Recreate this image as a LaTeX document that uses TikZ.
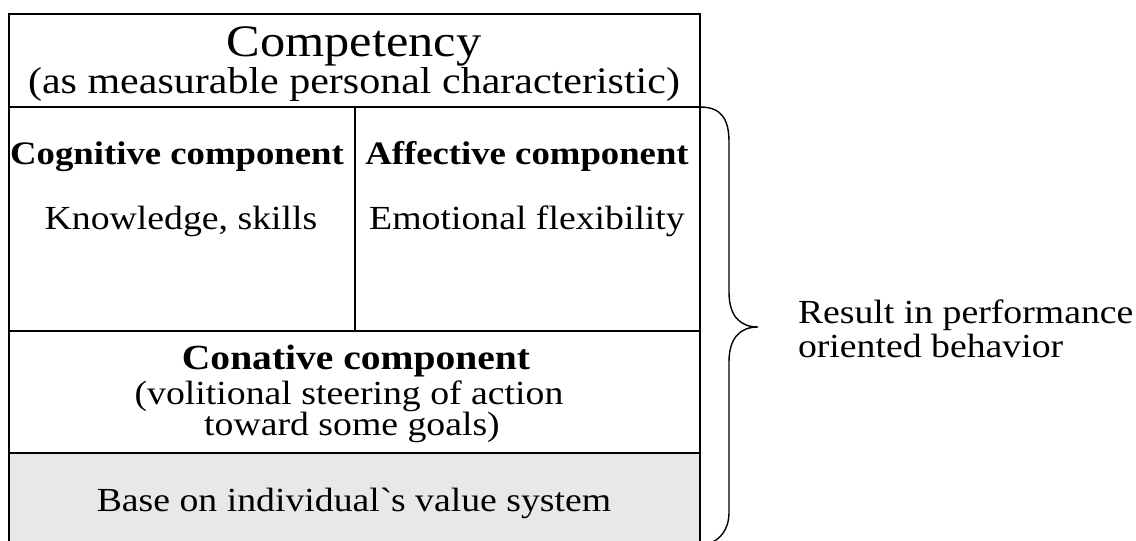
\documentclass[tikz,border=0pt]{standalone}
\usepackage{fontspec}
\setmainfont{Liberation Serif}[FakeStretch=1.12]
\begin{document}
\begin{tikzpicture}[x=1pt,y=-1pt,
  cell/.style={draw=black,line width=1.4pt,inner sep=0pt,outer sep=0pt},
  basecell/.style={cell,fill=black!9},
  txt/.style={anchor=base,inner sep=0pt,outer sep=0pt},
  huge/.style={font=\fontsize{45}{50}\selectfont},
  big/.style={font=\fontsize{37.5}{42}\selectfont},
  body/.style={font=\fontsize{33.7}{38}\selectfont},
  bodybf/.style={font=\fontsize{32.8}{38}\selectfont\bfseries},
  brace/.style={draw=black,line width=1.4pt}]
\useasboundingbox (0,0) rectangle (1136,541);

% cells of the competency block
\node[cell,minimum width=691pt,minimum height=93pt] (title) at (354.5,60.5) {};
\node[cell,minimum width=346pt,minimum height=224pt] (cog) at (182,219) {};
\node[cell,minimum width=345pt,minimum height=224pt] (aff) at (527.5,219) {};
\node[cell,minimum width=691pt,minimum height=122pt] (con) at (354.5,392) {};
\node[basecell,minimum width=691pt,minimum height=94pt] (val) at (354.5,500) {};

% texts
\node[txt,huge] (tA) at (354,56) {Competency};
\node[txt,big] (tB) at (354,93) {(as measurable personal characteristic)};
\node[txt,bodybf] (cogA) at (177,164) {Cognitive component};
\node[txt,body] (cogB) at (181,229) {Knowledge, skills};
\node[txt,bodybf] (affA) at (527,164) {Affective component};
\node[txt,body] (affB) at (527,229) {Emotional flexibility};
\node[txt,font=\fontsize{35.3}{40}\selectfont\bfseries] (conA) at (356,369) {Conative component};
\node[txt,body] (conB) at (349,404) {(volitional steering of action};
\node[txt,body] (conC) at (352,435) {toward some goals)};
\node[txt,body] (valA) at (354,511) {Base on individual\textasciigrave s value system};

% brace on the right
\coordinate (bTop) at (700,107);
\coordinate (bTip) at (758,327);
\coordinate (bEnd) at (705,545);
\draw[brace] (bTop) .. controls (722,107) and (729,120) .. (729,142)
  -- (729,292) .. controls (729,316) and (740,327) .. (bTip)
  .. controls (740,327) and (729,338) .. (729,362)
  -- (729,512) .. controls (729,530) and (720,541) .. (bEnd);

\node[txt,body,anchor=base west] (res) at (798,323) {Result in performance};
\node[txt,body,anchor=base west] (res2) at (798,357) {oriented behavior};
\end{tikzpicture}
\end{document}
